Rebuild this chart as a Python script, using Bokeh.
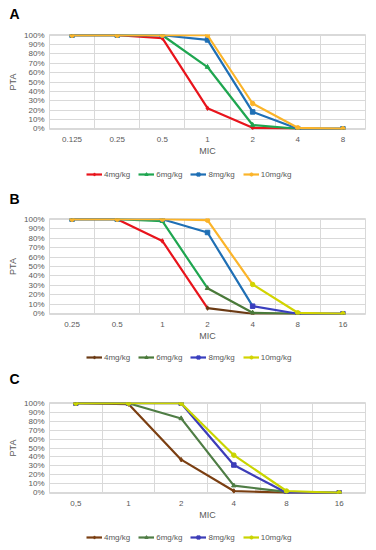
from bokeh.plotting import figure
from bokeh.models import FixedTicker, PrintfTickFormatter, Legend, LegendItem, Range1d
from bokeh.layouts import column
from bokeh.embed import file_html
from bokeh.resources import INLINE

FONT = "Liberation Sans"
TXT = "#595959"
GRID = "#d9d9d9"
W = 368

doses = ["4mg/kg", "6mg/kg", "8mg/kg", "10mg/kg"]
y_ticks = list(range(0, 101, 10))

# Panel A
mic_a = ["0.125", "0.25", "0.5", "1", "2", "4", "8"]
a_4 = [100, 100, 97, 22, 1, 0, 0]
a_6 = [100, 100, 100, 66, 4, 0, 0]
a_8 = [100, 100, 100, 95, 18, 0, 0]
a_10 = [100, 100, 100, 100, 27, 1, 0]

# Panel B
mic_b = ["0.25", "0.5", "1", "2", "4", "8", "16"]
b_4 = [100, 100, 77, 6, 0, 0, 0]
b_6 = [100, 100, 98, 27, 1, 0, 0]
b_8 = [100, 100, 100, 86, 8, 0, 0]
b_10 = [100, 100, 100, 99, 31, 1, 0]

# Panel C
mic_c = ["0,5", "1", "2", "4", "8", "16"]
c_4 = [100, 99, 37, 2, 0, 0]
c_6 = [100, 100, 83, 8, 1, 0]
c_8 = [100, 100, 100, 31, 0, 0]
c_10 = [100, 100, 100, 42, 2, 0]

markers = ["diamond", "triangle", "square", "circle"]


def strip(height, title=None):
    p = figure(width=W, height=height, output_backend="svg", toolbar_location=None,
               x_range=Range1d(0, 1), y_range=Range1d(0, 1),
               x_axis_location=None, y_axis_location=None, title=title,
               min_border=0, outline_line_color=None,
               background_fill_color="white", border_fill_color="white")
    p.grid.visible = False
    return p


def make_letter(letter, height, standoff):
    p = strip(height, letter)
    p.title.text_font = FONT
    p.title.text_font_size = "14px"
    p.title.text_font_style = "bold"
    p.title.text_color = "black"
    p.title.align = "left"
    p.title.offset = -40
    p.title.standoff = standoff
    return p


def make_chart(mic, series, colors, end_colors, splits, top, frame_h):
    n = len(mic)
    xs = list(range(n))
    bottom = 33
    p = figure(width=W, height=top + frame_h + bottom, output_backend="svg",
               toolbar_location=None, title=None,
               x_range=Range1d(-0.5, n - 0.5), y_range=Range1d(-0.8, 100.8),
               min_border_left=49, min_border_right=3, min_border_top=top,
               min_border_bottom=bottom, background_fill_color="white",
               border_fill_color="white")
    p.outline_line_color = GRID

    p.xaxis.ticker = FixedTicker(ticks=xs)
    p.xaxis.major_label_overrides = {i: m for i, m in enumerate(mic)}
    p.yaxis.ticker = FixedTicker(ticks=y_ticks)
    p.yaxis.formatter = PrintfTickFormatter(format="%d%%")
    for ax in (p.xaxis, p.yaxis):
        ax.axis_line_color = None
        ax.major_tick_line_color = None
        ax.minor_tick_line_color = None
        ax.major_tick_out = 0
        ax.major_tick_in = 0
        ax.minor_tick_out = 0
        ax.minor_tick_in = 0
        ax.major_label_text_font = FONT
        ax.major_label_text_font_size = "8px"
        ax.major_label_text_color = TXT
        ax.axis_label_text_font = FONT
        ax.axis_label_text_font_size = "9px"
        ax.axis_label_text_color = TXT
        ax.axis_label_text_font_style = "normal"
    p.xaxis.axis_label = "MIC"
    p.yaxis.axis_label = "PTA"
    p.xaxis.major_label_standoff = 7
    p.xaxis.axis_label_standoff = 1
    p.yaxis.major_label_standoff = 5
    p.yaxis.axis_label_standoff = 3

    p.xgrid.ticker = FixedTicker(ticks=[i + 0.5 for i in range(n - 1)])
    p.ygrid.ticker = FixedTicker(ticks=y_ticks)
    p.xgrid.grid_line_color = GRID
    p.ygrid.grid_line_color = GRID

    for k, (vals, c, ec, sp) in enumerate(zip(series, colors, end_colors, splits)):
        if sp < n:
            p.line(xs[:sp + 1], vals[:sp + 1], line_color=c, line_width=2.2)
            p.line(xs[sp:], vals[sp:], line_color=ec, line_width=2.2)
            p.scatter(xs[:sp], vals[:sp], marker=markers[k], size=4.5,
                      fill_color=c, line_color=c)
            p.scatter(xs[sp:], vals[sp:], marker=markers[k], size=4.5,
                      fill_color=ec, line_color=ec)
        else:
            p.line(xs, vals, line_color=c, line_width=2.2)
            p.scatter(xs, vals, marker=markers[k], size=4.5,
                      fill_color=c, line_color=c)
    return p


def make_legend(series, colors, height, x0):
    p = strip(height)
    items = []
    for k, (vals, c) in enumerate(zip(series, colors)):
        xs = list(range(len(vals)))
        lr = p.line(xs, vals, line_color=c, line_width=2.2, visible=False)
        sr = p.scatter(xs, vals, marker=markers[k], size=4.5, fill_color=c,
                       line_color=c, visible=False)
        items.append(LegendItem(label=doses[k], renderers=[lr, sr]))
    leg = Legend(items=items, orientation="horizontal",
                 location=(x0, (height - 14) / 2),
                 label_text_font=FONT, label_text_font_size="8px",
                 label_text_color=TXT, glyph_width=16, glyph_height=8,
                 label_standoff=2, spacing=8, padding=2, margin=0,
                 label_height=10, border_line_color=None,
                 background_fill_alpha=0, inactive_fill_alpha=0)
    p.add_layout(leg, "center")
    return p


col_a = ["#e8141c", "#1fa650", "#1f6fb5", "#fbb42a"]
col_b_start = ["#e8141c", "#1fa650", "#1f6fb5", "#fbb42a"]
col_b_end = ["#6b3a14", "#4a7a3a", "#3a3fbf", "#d2d400"]
col_c = ["#7b3f12", "#4f7d45", "#3d3db8", "#c9d400"]

sa = [a_4, a_6, a_8, a_10]
sb = [b_4, b_6, b_8, b_10]
sc = [c_4, c_6, c_8, c_10]

ta = make_letter("A", 24, 6)
pa = make_chart(mic_a, sa, col_a, col_a, [99, 99, 99, 99], 10, 95)
la = make_legend(sa, col_a, 20, 37)
tb = make_letter("B", 30, 12)
pb = make_chart(mic_b, sb, col_b_start, col_b_end, [3, 3, 4, 4], 6, 96)
lb = make_legend(sb, col_b_end, 16, 37)
tc = make_letter("C", 30, 10)
pc = make_chart(mic_c, sc, col_c, col_c, [99, 99, 99, 99], 9, 91)
lc = make_legend(sc, col_c, 18, 37)

layout = column(ta, pa, la, tb, pb, lb, tc, pc, lc, spacing=0)
open("out.html", "w").write(file_html(layout, INLINE))
